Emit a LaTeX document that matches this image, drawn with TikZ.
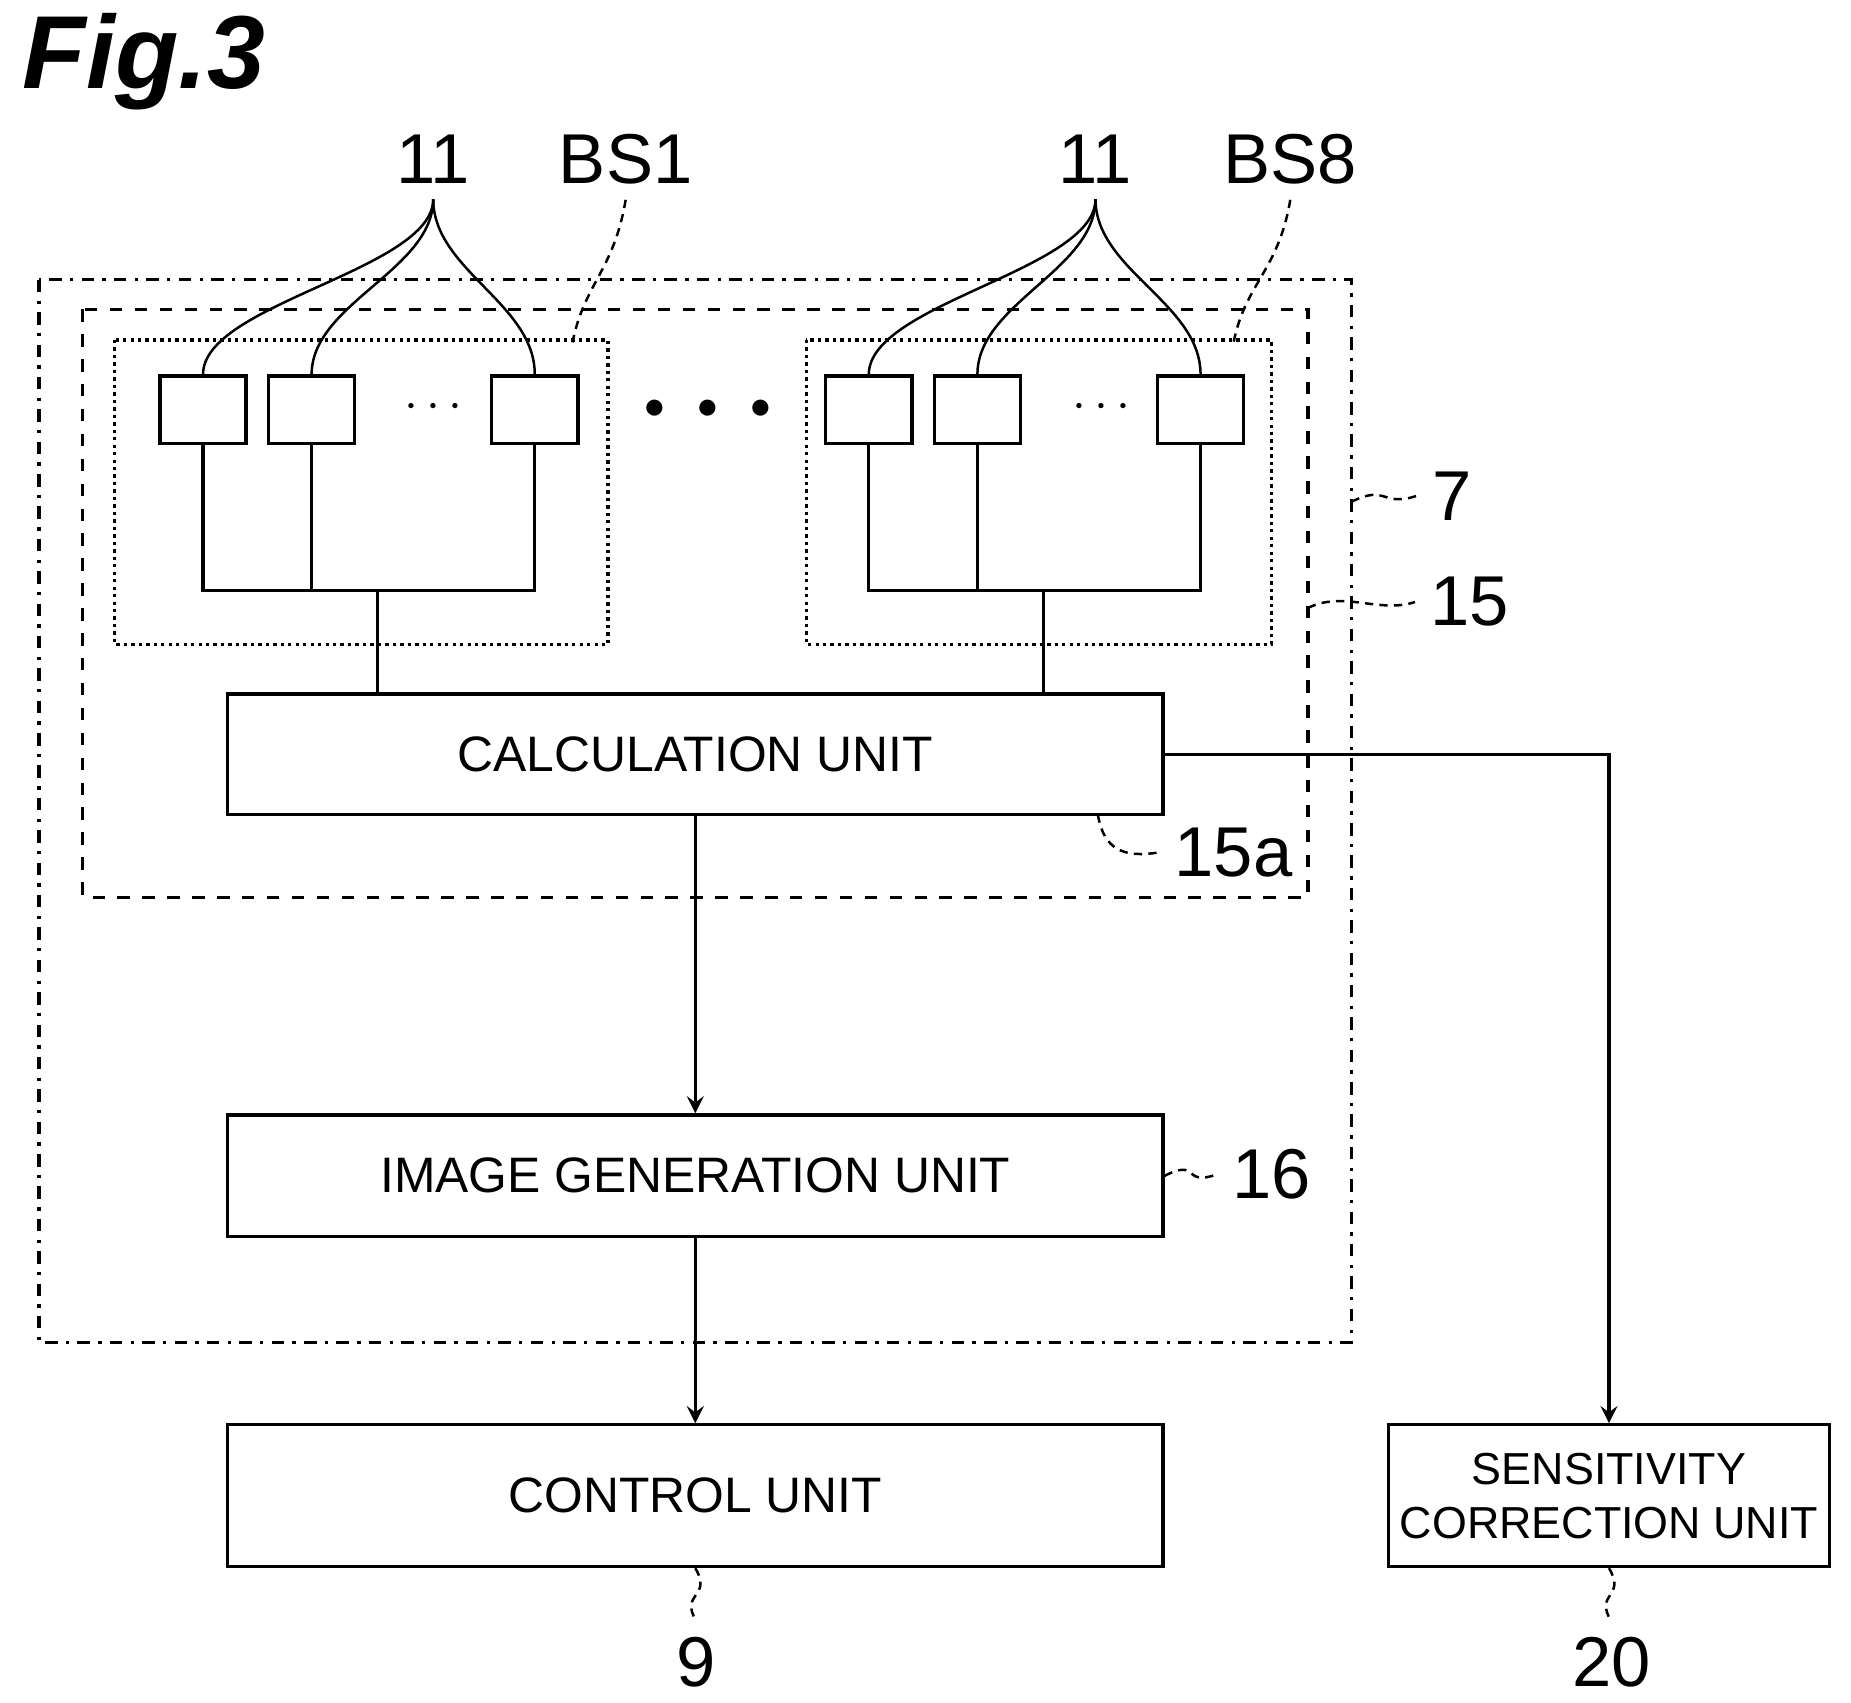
\documentclass[tikz,border=0pt]{standalone}
\usepackage{fontspec}
\setmainfont{Liberation Sans}
\usetikzlibrary{decorations.pathmorphing}
\begin{document}
\begin{tikzpicture}[x=0.01cm, y=-0.01cm, >=stealth, line width=0.8pt,
  unit/.style={draw, font=\fontsize{12}{15}\selectfont},
  cell/.style={draw, minimum width=0.73cm, minimum height=0.57cm},
  refnum/.style={font=\fontsize{17}{20}\selectfont},
  leader/.style={line width=0.6pt, dashed, dash pattern=on 2pt off 1.5pt}]
\useasboundingbox (0,0) rectangle (1568,1442);
\node[font=\fontsize{25}{30}\selectfont\bfseries\itshape, anchor=west, inner sep=0pt] (fig) at (18,52) {Fig.3};

% frames
\draw[dash dot] (33,237) rectangle (1145,1137);
\draw[dashed] (70,262) rectangle (1108,760);
\draw[densely dotted] (97,288) rectangle (515,546);
\draw[densely dotted] (683,288) rectangle (1077,546);
\coordinate (f7) at (1145,425);
\coordinate (f15) at (1108,515);
\coordinate (bs1c) at (485,290);
\coordinate (bs8c) at (1045,290);

% detector cells
\foreach \n/\x in {a/172,b/264,c/453}
  \node[cell] (p-\n) at (\x,347) {};
\foreach \n/\x in {a/736,b/828,c/1017}
  \node[cell] (q-\n) at (\x,347) {};
\node[font=\large] (pdots) at (367,345) {$\cdots$};
\node[font=\large] (qdots) at (933,345) {$\cdots$};
\node (mdots) at (600,347) {$\bullet\ \ \bullet\ \ \bullet$};

% units
\node[unit, minimum width=7.92cm, minimum height=1.02cm] (calc) at (589,639) {CALCULATION UNIT};
\node[unit, minimum width=7.92cm, minimum height=1.03cm] (img) at (589,996) {IMAGE GENERATION UNIT};
\node[unit, minimum width=7.92cm, minimum height=1.2cm] (ctrl) at (589,1267) {CONTROL UNIT};
\node[unit, minimum width=3.73cm, minimum height=1.2cm, inner sep=1pt, align=center, font=\fontsize{10.8}{13}\selectfont] (sens) at (1363,1267) {SENSITIVITY\\CORRECTION UNIT};

% buses
\draw (p-a.south) |- (p-c.south |- 0,500) -- (p-c.south);
\draw (p-b.south) -- (p-b.south |- 0,500);
\draw (320,500) -- (calc.north -| 320,0);
\draw (q-a.south) |- (q-c.south |- 0,500) -- (q-c.south);
\draw (q-b.south) -- (q-b.south |- 0,500);
\draw (884,500) -- (calc.north -| 884,0);

% signal flow
\draw[->] (calc.south) -- (img.north);
\draw[->] (img.south) -- (ctrl.north);
\draw[->] (calc.east) -| (sens.north);

% reference numerals
\node[refnum] (n11a) at (367,135) {11};
\node[refnum] (bs1) at (530,135) {BS1};
\node[refnum] (n11b) at (928,135) {11};
\node[refnum] (bs8) at (1093,135) {BS8};
\foreach \s/\t in {n11a/p-a,n11a/p-b,n11a/p-c,n11b/q-a,n11b/q-b,n11b/q-c}
  \draw[line width=0.6pt] (\s.south) .. controls +(0,60) and +(0,-60) .. (\t.north);
\draw[leader] (bs1.south) .. controls +(-10,60) and +(10,-50) .. (bs1c);
\draw[leader] (bs8.south) .. controls +(-10,60) and +(10,-50) .. (bs8c);

\node[refnum] (n7) at (1230,420) {7};
\node[refnum] (n15) at (1245,510) {15};
\node[refnum] (n15a) at (1045,722) {15a};
\node[refnum] (n16) at (1077,995) {16};
\node[refnum] (n9) at (590,1408) {9};
\node[refnum] (n20) at (1365,1408) {20};
\draw[leader] (f7) .. controls +(30,-15) and +(-30,10) .. (n7.west);
\draw[leader] (f15) .. controls +(30,-15) and +(-30,10) .. (n15.west);
\draw[leader] (930,690) .. controls +(5,30) and +(-30,5) .. (n15a.west);
\draw[leader] (img.east) .. controls +(30,-15) and +(-30,10) .. (n16.west);
\draw[leader] (ctrl.south) .. controls +(15,25) and +(-15,-25) .. (n9.north);
\draw[leader] (sens.south) .. controls +(15,25) and +(-15,-25) .. (n20.north);
\end{tikzpicture}
\end{document}
